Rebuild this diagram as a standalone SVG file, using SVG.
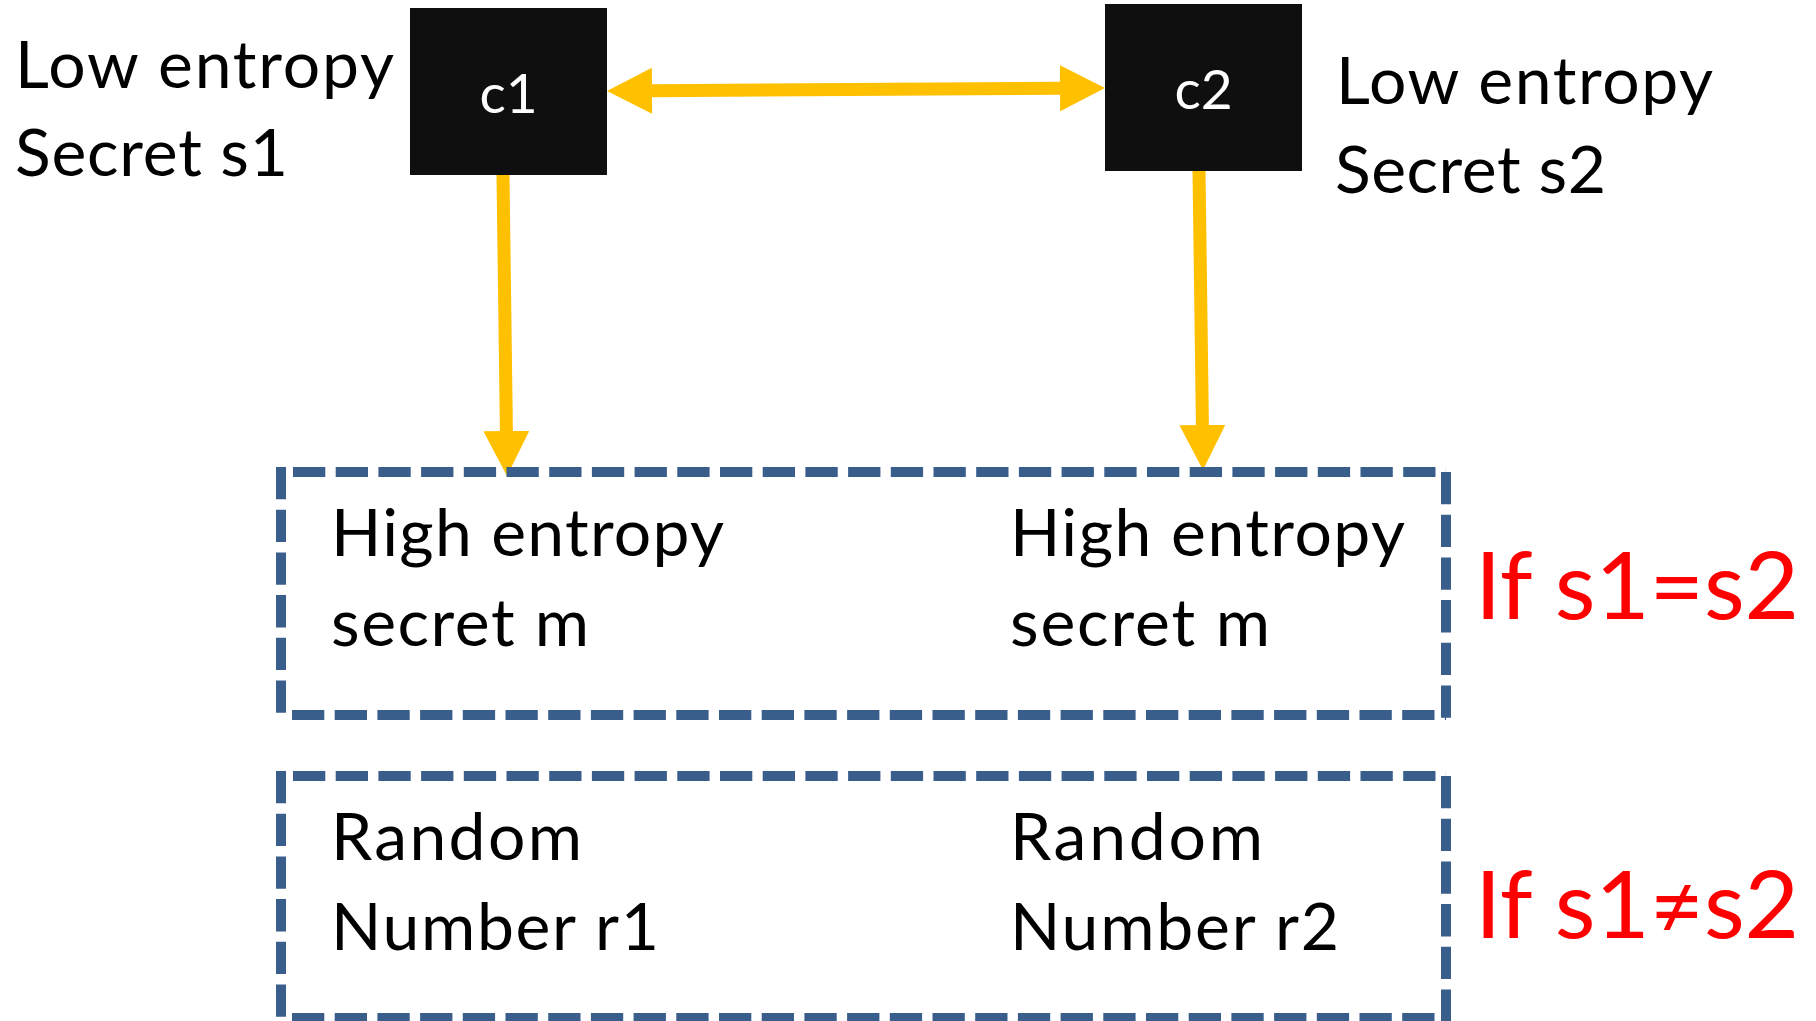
<svg xmlns="http://www.w3.org/2000/svg" width="1816" height="1021" viewBox="0 0 1816 1021">
  <style>
    .txt { font-family: Lato, "Noto Sans", "Liberation Sans", sans-serif; fill: #000000; }
    .side { font-size: 66px; }
    .lbl { font-size: 55px; fill: #ffffff; text-anchor: middle; }
    .cond { font-size: 94px; fill: #ff0000; }
    .chip { fill: #0f0f0f; }
    .dash { stroke: #3a5e8c; stroke-width: 10; fill: none; stroke-dasharray: 32.3 10.4; }
    .conn { stroke: #ffc000; stroke-width: 13; fill: none; }
  </style>
  <defs>
    <marker id="head" markerUnits="userSpaceOnUse" markerWidth="46" markerHeight="46" refX="0" refY="23" orient="auto-start-reverse">
      <path d="M0,0 L45,23 L0,46 Z" fill="#ffc000"/>
    </marker>
  </defs>

  <rect x="0" y="0" width="1816" height="1021" fill="#ffffff"/>

  <!-- connectors -->
  <g id="connectors">
    <line class="conn" x1="652" y1="90.7" x2="1060" y2="88.3" marker-start="url(#head)" marker-end="url(#head)"/>
    <line class="conn" x1="503" y1="175" x2="506.4" y2="431" marker-end="url(#head)"/>
    <line class="conn" x1="1199" y1="170" x2="1202.4" y2="425" marker-end="url(#head)"/>
  </g>

  <!-- party c1 -->
  <g id="c1">
    <rect class="chip" x="410" y="8" width="197" height="167"/>
    <text class="txt lbl" x="508.5" y="113">c1</text>
  </g>
  <g id="s1-label">
    <text class="txt side" x="15" y="88" textLength="379">Low entropy</text>
    <text class="txt side" x="15" y="176" textLength="273">Secret s1</text>
  </g>

  <!-- party c2 -->
  <g id="c2">
    <rect class="chip" x="1105" y="4" width="197" height="167"/>
    <text class="txt lbl" x="1203.5" y="109">c2</text>
  </g>
  <g id="s2-label">
    <text class="txt side" x="1336" y="104" textLength="377">Low entropy</text>
    <text class="txt side" x="1335" y="193" textLength="271">Secret s2</text>
  </g>

  <!-- outcome when secrets match -->
  <g id="match-box">
    <path class="dash" d="M293,472 H1446"/>
    <path class="dash" d="M281,467 V720"/>
    <path class="dash" d="M1446,472 V720"/>
    <path class="dash" d="M292,715 H1446"/>
    <text class="txt side" x="331" y="556" textLength="393">High entropy</text>
    <text class="txt side" x="331" y="646" textLength="258">secret m</text>
    <text class="txt side" x="1010" y="556" textLength="395">High entropy</text>
    <text class="txt side" x="1010" y="646" textLength="260">secret m</text>
  </g>
  <g id="match-cond">
    <text class="txt cond" x="1475" y="619" textLength="324">If s1=s2</text>
  </g>

  <!-- outcome when secrets differ -->
  <g id="mismatch-box">
    <path class="dash" d="M293,776 H1446"/>
    <path class="dash" d="M281,771 V1030"/>
    <path class="dash" d="M1446,776 V1030"/>
    <path class="dash" d="M292,1018 H1446"/>
    <text class="txt side" x="331" y="860" textLength="251">Random</text>
    <text class="txt side" x="331" y="950" textLength="328">Number r1</text>
    <text class="txt side" x="1010" y="860" textLength="253">Random</text>
    <text class="txt side" x="1010" y="950" textLength="329">Number r2</text>
  </g>
  <g id="mismatch-cond">
    <text class="txt cond" x="1475" y="938" textLength="324">If s1≠s2</text>
  </g>
</svg>
